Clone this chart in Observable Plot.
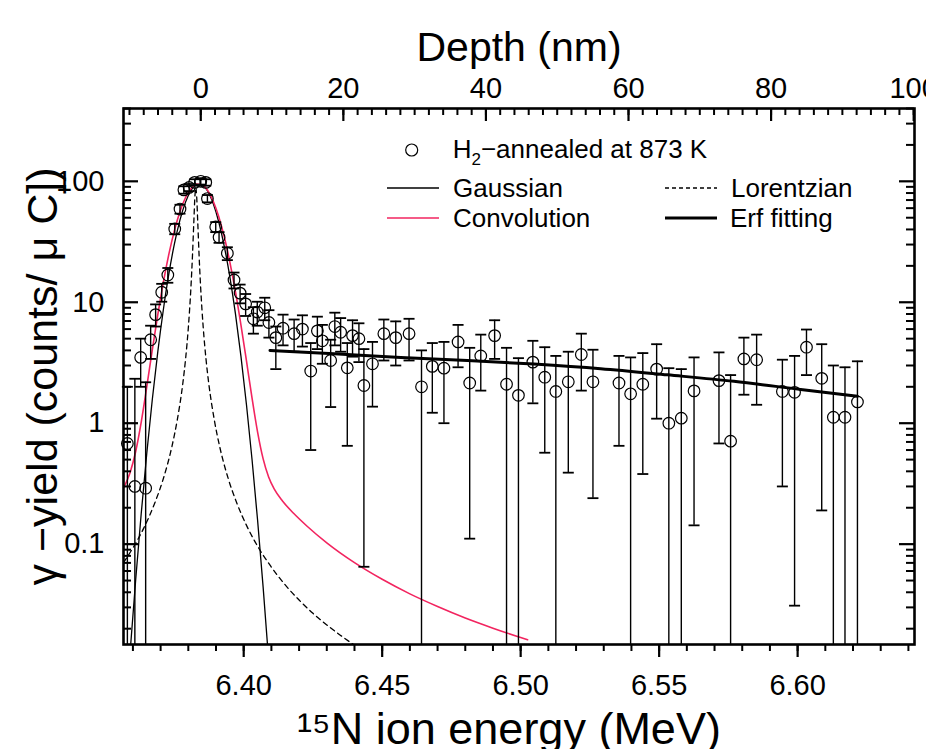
<!DOCTYPE html>
<html><head><meta charset="utf-8">
<script src="https://cdn.jsdelivr.net/npm/d3@7"></script>
<script src="https://cdn.jsdelivr.net/npm/@observablehq/plot@0.6"></script>
<style>
html,body{margin:0;padding:0;background:#fff;overflow:hidden;width:926px;height:749px;}
#wrap{position:relative;width:926px;height:749px;}
</style></head><body><div id="wrap"></div>
<script>
// ---- measured data points (15N ion energy in MeV, gamma yield counts/uC) ----
const energy = [6.3580,6.3607,6.3628,6.3646,6.3664,6.3682,6.3704,6.3726,6.3751,6.3770,6.3784,6.3803,6.3823,6.3845,6.3863,6.3869,6.3899,6.3911,6.3941,6.3965,6.3987,6.4007,6.4035,6.4049,6.4076,6.4091,6.4116,6.4142,6.4182,6.4212,6.4242,6.4266,6.4284,6.4314,6.4329,6.4350,6.4374,6.4393,6.4416,6.4434,6.4465,6.4506,6.4549,6.4597,6.4642,6.4681,6.4723,6.4774,6.4816,6.4856,6.4906,6.4949,6.4992,6.5044,6.5087,6.5127,6.5172,6.5219,6.5261,6.5355,6.5397,6.5441,6.5491,6.5535,6.5580,6.5626,6.5716,6.5758,6.5806,6.5852,6.5945,6.5989,6.6032,6.6087,6.6129,6.6171,6.6216];
const yieldVal = [0.68,0.30,3.5,0.29,4.9,7.9,12.1,16.8,40.4,59,85,89,98,100,98,72,42,34.5,25.4,15.3,11.9,9.7,7.3,8.3,9.0,6.8,5.1,6.1,5.5,6.0,2.7,5.8,4.8,3.3,6.3,5.65,2.87,5.3,5.0,2.05,3.1,5.5,5.1,5.5,2.0,2.95,2.85,4.7,2.15,3.6,5.3,2.1,1.7,3.2,2.4,1.83,2.2,3.7,2.2,2.15,1.75,2.1,2.8,1.0,1.1,1.85,2.25,0.71,3.4,3.35,1.83,1.8,4.25,2.35,1.12,1.12,1.5];
const errHigh = [2.0,2.33,5.0,2.18,6.4,9.6,14.2,19.2,44.5,64,91,95,104,106,104,77,46,38,28.5,17.6,14.0,11.7,9.1,10.1,10.9,8.6,6.3,7.9,7.2,7.8,4.6,7.6,6.5,4.9,8.2,7.4,4.6,7.1,6.7,4.1,4.7,7.2,6.95,7.3,4.0,4.6,4.7,6.5,4.2,5.4,7.1,4.2,3.45,4.8,4.25,3.6,3.9,5.5,4.05,3.6,3.5,3.8,4.5,2.85,2.8,3.5,3.85,2.5,5.1,5.4,3.35,3.6,5.95,4.5,3.0,2.9,3.25];
// 0 = error bar reaches zero (below the log axis)
const errLow = [0,0,2.0,0,3.4,6.3,10.1,14.5,36.5,54,79,83,92,94,92,67,38,31,22.3,13.0,9.8,7.7,5.5,6.4,7.1,5.1,2.8,4.4,3.9,4.3,0.60,4.1,3.1,1.36,4.4,3.9,0.65,3.55,3.2,0.065,1.37,3.3,3.0,3.3,0,1.22,1.0,2.9,0.111,1.86,3.4,0,0,1.46,0.57,0,0.39,1.86,0.24,0.65,0,0.38,1.09,0,0,0.143,0.68,0,1.72,1.42,0.30,0.031,2.5,0.19,0,0,0];

// ---- fitted curves ----
const gaussE = [6.3590,6.3610,6.3630,6.3650,6.3670,6.3690,6.3710,6.3730,6.3750,6.3770,6.3790,6.3810,6.3830,6.3850,6.3870,6.3890,6.3910,6.3930,6.3950,6.3970,6.3990,6.4010,6.4030,6.4050,6.4070,6.4090];
const gaussY = [0.0129,0.0508,0.179,0.561,1.57,3.92,8.71,17.3,30.5,48.0,67.3,84.2,93.9,93.4,82.8,65.4,46.1,28.9,16.2,8.08,3.59,1.42,0.503,0.159,0.0445,0.0111];
const lorE = [6.3567,6.3600,6.3640,6.3680,6.3710,6.3740,6.3760,6.3780,6.3790,6.3800,6.3810,6.3815,6.3820,6.3824,6.3827,6.3830,6.3834,6.3839,6.3844,6.3854,6.3864,6.3874,6.3894,6.3914,6.3944,6.3974,6.4014,6.4054,6.4097,6.4150,6.4200,6.4250,6.4300,6.4350,6.4400];
const lorY = [0.071,0.093,0.137,0.222,0.349,0.630,1.06,2.12,3.37,6.13,14.0,24.2,46.6,76.2,88.9,76.2,46.6,24.2,14.0,6.13,3.37,2.12,1.06,0.630,0.349,0.222,0.137,0.093,0.066,0.046,0.0345,0.0268,0.0215,0.0176,0.0146];
const convE = [6.3567,6.3590,6.3610,6.3630,6.3650,6.3670,6.3690,6.3710,6.3730,6.3750,6.3770,6.3790,6.3810,6.3830,6.3850,6.3870,6.3890,6.3910,6.3930,6.3950,6.3970,6.3990,6.4010,6.4030,6.4050,6.4070,6.4090,6.4110,6.4140,6.4180,6.4230,6.4300,6.4400,6.4500,6.4600,6.4700,6.4800,6.4900,6.5000,6.5025];
const convY = [0.294,0.392,0.583,1.02,2.00,4.04,7.93,14.7,25.1,39.3,56.3,73.5,87.4,94.8,93.4,83.9,68.5,51.0,34.6,21.5,12.3,6.51,3.27,1.62,0.848,0.509,0.359,0.286,0.227,0.180,0.140,0.1025,0.0703,0.0512,0.0388,0.0305,0.0245,0.0202,0.0169,0.0162];
const erfE = [6.4095,6.4326,6.4567,6.4808,6.5048,6.5289,6.5530,6.5770,6.6011,6.6216];
const erfY = [4.0,3.75,3.50,3.30,3.08,2.82,2.51,2.22,1.90,1.67];

// ---- axes ----
const energyTicks = [6.40,6.45,6.50,6.55,6.60];
const energyMinor = [6.36,6.37,6.38,6.39,6.40,6.41,6.42,6.43,6.44,6.45,6.46,6.47,6.48,6.49,6.50,6.51,6.52,6.53,6.54,6.55,6.56,6.57,6.58,6.59,6.60,6.61,6.62,6.63,6.64];
const depthTicks = [0,20,40,60,80,100];
const depthMinor = [-10,-8,-6,-4,-2,0,2,4,6,8,10,12,14,16,18,20,22,24,26,28,30,32,34,36,38,40,42,44,46,48,50,52,54,56,58,60,62,64,66,68,70,72,74,76,78,80,82,84,86,88,90,92,94,96,98,100];
const depthZeroEnergy = 6.3845;   // MeV at 0 nm
const mevPerNm = 0.002574;        // energy per nm of depth
const yTicks = [0.1,1,10,100];
const yTickLabels = ["0.1","1","10","100"];
const yMinor = [0.02,0.03,0.04,0.05,0.06,0.07,0.08,0.09,0.2,0.3,0.4,0.5,0.6,0.7,0.8,0.9,2,3,4,5,6,7,8,9,20,30,40,50,60,70,80,90,200,300,400];

const xTitle = "¹⁵N ion energy (MeV)";
const topTitle = "Depth (nm)";
const yTitle = "γ −yield (counts/ μ C])";

const W = 926, H = 749, mL = 123, mR = 12, mT = 108, mB = 105;
const fw = W - mL - mR, fh = H - mT - mB;
const pts = energy.map((e, i) => ({e, v: yieldVal[i], hi: errHigh[i], lo: errLow[i]}));
const zip = (xs, ys) => xs.map((x, i) => ({x, y: ys[i]}));
const depthE = d => depthZeroEnergy + d * mevPerNm;
const cap = {draw(ctx) { ctx.moveTo(-5.5, 0); ctx.lineTo(5.5, 0); }};
const RED = "#f2245f";
const FONT = "'Liberation Sans', Arial, sans-serif";

const chart = Plot.plot({
  width: W, height: H,
  marginLeft: mL, marginRight: mR, marginTop: mT, marginBottom: mB,
  style: {fontFamily: FONT, background: "white", color: "black"},
  x: {domain: [6.3566, 6.6422]},
  y: {type: "log", domain: [0.0148, 400], axis: null},
  marks: [
    Plot.line(zip(lorE, lorY), {x: "x", y: "y", stroke: "black", strokeWidth: 1.3, strokeDasharray: "5,4", curve: "monotone-x", clip: true}),
    Plot.line(zip(gaussE, gaussY), {x: "x", y: "y", stroke: "black", strokeWidth: 1.3, curve: "monotone-x", clip: true}),
    Plot.line(zip(convE, convY), {x: "x", y: "y", stroke: RED, strokeWidth: 1.6, curve: "monotone-x", clip: true}),
    Plot.line(zip(erfE, erfY), {x: "x", y: "y", stroke: "black", strokeWidth: 3, curve: "monotone-x", clip: true}),
    Plot.ruleX(pts, {x: "e", y1: d => d.lo > 0 ? d.lo : 1e-4, y2: "hi", stroke: "black", strokeWidth: 1.4, clip: true}),
    Plot.dot(pts, {x: "e", y: "hi", symbol: cap, stroke: "black", strokeWidth: 1.8}),
    Plot.dot(pts.filter(d => d.lo > 0), {x: "e", y: "lo", symbol: cap, stroke: "black", strokeWidth: 1.8}),
    Plot.dot(pts, {x: "e", y: "v", r: 5.8, stroke: "black", strokeWidth: 1.2, fill: "none"}),
    Plot.frame({stroke: "black", strokeWidth: 2.6}),
    // bottom axis (outward ticks)
    Plot.axisX({ticks: energyTicks, anchor: "bottom", tickSize: 13, tickPadding: 17, tickFormat: d => d.toFixed(2), fontSize: 29, strokeWidth: 2.2, label: null}),
    Plot.axisX({ticks: energyMinor, anchor: "bottom", tickSize: 7, tickFormat: () => "", strokeWidth: 2, label: null}),
    // top depth axis (inward ticks)
    Plot.axisX({ticks: depthTicks.map(depthE), anchor: "top", tickSize: 0, tickPadding: 11, tickFormat: (e, i) => String(depthTicks[i]), fontSize: 29, label: null}),
    Plot.tickX(depthMinor.map(depthE), {x: d => d, insetBottom: fh - 7, stroke: "black", strokeWidth: 2}),
    Plot.tickX(depthTicks.map(depthE), {x: d => d, insetBottom: fh - 13, stroke: "black", strokeWidth: 2.2}),
    // left / right y ticks (inward) and labels
    Plot.text(yTicks, {y: d => d, text: (d, i) => yTickLabels[i], frameAnchor: "left", dx: -19, textAnchor: "end", lineAnchor: "middle", fontSize: 29}),
    Plot.tickY(yMinor, {y: d => d, insetRight: fw - 8, stroke: "black", strokeWidth: 2}),
    Plot.tickY(yTicks, {y: d => d, insetRight: fw - 15, stroke: "black", strokeWidth: 2.2}),
    Plot.tickY(yMinor, {y: d => d, insetLeft: fw - 8, stroke: "black", strokeWidth: 2}),
    Plot.tickY(yTicks, {y: d => d, insetLeft: fw - 15, stroke: "black", strokeWidth: 2.2}),
    // axis titles
    Plot.text([topTitle], {text: d => d, frameAnchor: "top", dy: -61, textAnchor: "middle", lineAnchor: "middle", fontSize: 41}),
    Plot.text([xTitle], {text: d => d, frameAnchor: "bottom", dy: 85, dx: -10, textAnchor: "middle", lineAnchor: "middle", fontSize: 45}),
    Plot.text([yTitle], {text: d => d, frameAnchor: "left", dx: -80, rotate: -90, textAnchor: "middle", lineAnchor: "middle", fontSize: 43})
  ]
});
document.getElementById("wrap").appendChild(chart);

// ---- legend (inside the plot area) ----
const ov = d3.select("#wrap").append("svg")
  .attr("width", W).attr("height", H)
  .style("position", "absolute").style("left", "0px").style("top", "0px")
  .style("font-family", FONT).style("font-size", "26px");
ov.append("circle").attr("cx", 411.7).attr("cy", 150).attr("r", 6).attr("fill", "none").attr("stroke", "black").attr("stroke-width", 1.2);
const t1 = ov.append("text").attr("x", 452.7).attr("y", 157.5);
t1.append("tspan").text("H");
t1.append("tspan").attr("font-size", "17px").attr("dy", 7).text("2");
t1.append("tspan").attr("dy", -7).text("−annealed at 873 K");
const items = [
  {label: "Gaussian", x: 387, y: 188, tx: 453, stroke: "black", w: 1.3, dash: null},
  {label: "Lorentzian", x: 665, y: 188, tx: 731, stroke: "black", w: 1.3, dash: "4,3"},
  {label: "Convolution", x: 387, y: 218, tx: 453, stroke: RED, w: 1.6, dash: null},
  {label: "Erf fitting", x: 665, y: 218, tx: 730, stroke: "black", w: 3, dash: null}
];
for (const it of items) {
  ov.append("line").attr("x1", it.x).attr("x2", it.x + 52).attr("y1", it.y).attr("y2", it.y)
    .attr("stroke", it.stroke).attr("stroke-width", it.w).attr("stroke-dasharray", it.dash);
  ov.append("text").attr("x", it.tx).attr("y", it.y + 8.5).text(it.label);
}
</script>
</body></html>
